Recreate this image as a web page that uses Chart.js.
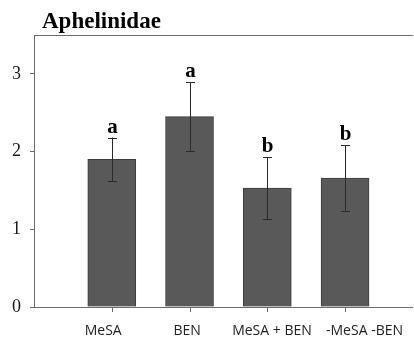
<!DOCTYPE html>
<html>
<head>
<meta charset="utf-8">
<script src="https://cdn.jsdelivr.net/npm/chart.js@4/dist/chart.umd.min.js"></script>
<style>
  html, body { margin: 0; padding: 0; background: #fff; overflow: hidden; }
  #wrap { width: 414px; height: 343px; }
</style>
</head>
<body>
<div id="wrap"><canvas id="barChart" width="414" height="343"></canvas></div>
<script>
// Aphelinidae panel, mean +/- SE with letters
const title = 'Aphelinidae';
const categories = ['MeSA', 'BEN', 'MeSA + BEN', '-MeSA -BEN'];
const means = [1.90, 2.45, 1.53, 1.66];
const errors = [0.28, 0.44, 0.40, 0.42];
const letters = ['a', 'a', 'b', 'b'];
const yTicks = [0, 1, 2, 3];
// labels in the original sit a little off the bar centres
const labelShift = [-0.11, -0.03, 0.06, 0.25];

const axisColor = '#6b6b6b';

// error bars, significance letters, title, x tick marks and top frame line
const extras = {
	id: 'extras',
	afterDatasetsDraw(chart) {
		const ctx = chart.ctx;
		const xs = chart.scales.x;
		const ys = chart.scales.y;
		const area = chart.chartArea;

		ctx.save();
		ctx.strokeStyle = axisColor;
		ctx.lineWidth = 1;
		ctx.beginPath();
		ctx.moveTo(area.left, area.top + 0.5);
		ctx.lineTo(area.right, area.top + 0.5);
		ctx.stroke();

		means.forEach((m, i) => {
			const x = Math.round(xs.getPixelForValue(i)) + 0.5;
			const yHi = ys.getPixelForValue(m + errors[i]);
			const yLo = ys.getPixelForValue(m - errors[i]);

			// tick mark under the bar
			ctx.strokeStyle = axisColor;
			ctx.beginPath();
			ctx.moveTo(x, area.bottom);
			ctx.lineTo(x, area.bottom + 5);
			ctx.stroke();

			ctx.strokeStyle = '#2a2a2a';
			ctx.beginPath();
			ctx.moveTo(x, yHi);
			ctx.lineTo(x, yLo);
			ctx.moveTo(x - 4.5, Math.round(yHi) + 0.5);
			ctx.lineTo(x + 4.5, Math.round(yHi) + 0.5);
			ctx.moveTo(x - 4.5, Math.round(yLo) + 0.5);
			ctx.lineTo(x + 4.5, Math.round(yLo) + 0.5);
			ctx.stroke();

			ctx.fillStyle = '#000';
			ctx.font = 'bold 21px "Liberation Serif", "DejaVu Serif", serif';
			ctx.textAlign = 'center';
			ctx.textBaseline = 'alphabetic';
			ctx.fillText(letters[i], x, yHi - 5);
		});

		ctx.fillStyle = '#000';
		ctx.font = 'bold 23px "Liberation Serif", "DejaVu Serif", serif';
		ctx.textAlign = 'left';
		ctx.textBaseline = 'alphabetic';
		ctx.fillText(title, 42, 28);
		ctx.restore();
	}
};

const ctx = document.getElementById('barChart').getContext('2d');

new Chart(ctx, {
	type: 'bar',
	data: {
		datasets: [{
			label: title,
			data: means.map((v, i) => ({ x: i, y: v })),
			backgroundColor: '#595959',
			borderColor: '#3c3c3c',
			borderWidth: 1,
			barThickness: 48
		}]
	},
	options: {
		responsive: false,
		animation: false,
		layout: { padding: { top: 35, left: 0, right: 0, bottom: 0 } },
		plugins: {
			legend: { display: false },
			tooltip: { enabled: false }
		},
		scales: {
			x: {
				type: 'linear',
				min: -1,
				max: 3.872,
				offset: false,
				afterBuildTicks: (scale) => {
					scale.ticks = categories.map((c, i) => ({ value: i + labelShift[i] }));
				},
				afterFit: (scale) => { scale.height = 36; },
				grid: {
					offset: false,
					drawOnChartArea: false,
					drawTicks: true,
					tickLength: 5,
					tickColor: 'rgba(0,0,0,0)',
					color: axisColor
				},
				border: { display: true, color: axisColor, width: 1 },
				ticks: {
					autoSkip: false,
					maxRotation: 0,
					padding: 11,
					color: '#222',
					font: { family: '"Open Sans", "Liberation Sans", sans-serif', size: 14 },
					callback: (value, index) => categories[index]
				}
			},
			y: {
				min: 0,
				max: 3.5,
				afterBuildTicks: (scale) => {
					scale.ticks = yTicks.map(v => ({ value: v }));
				},
				afterFit: (scale) => { scale.width = 34; },
				grid: {
					drawOnChartArea: false,
					drawTicks: true,
					tickLength: 4,
					color: axisColor
				},
				border: { display: true, color: axisColor, width: 1 },
				ticks: {
					padding: 9,
					color: '#1a1a1a',
					font: { family: '"Liberation Serif", "DejaVu Serif", serif', size: 18 }
				}
			}
		}
	},
	plugins: [extras]
});
</script>
</body>
</html>
